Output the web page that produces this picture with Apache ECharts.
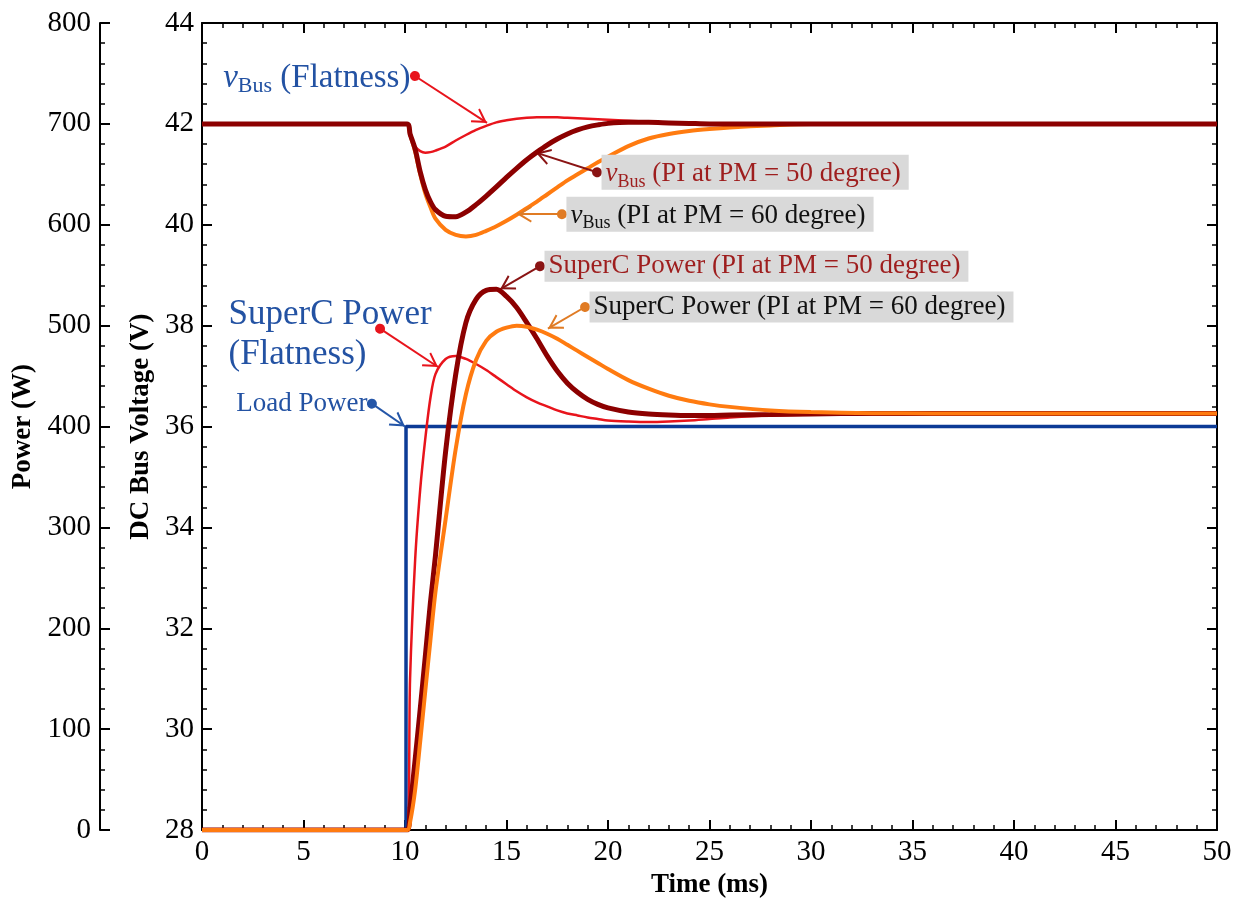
<!DOCTYPE html>
<html><head><meta charset="utf-8">
<script src="https://cdn.jsdelivr.net/npm/echarts@6/dist/echarts.min.js"></script>
<style>html,body{margin:0;padding:0;background:#fff}#c{width:1243px;height:904px}</style>
</head><body><div id="c"></div>
<script>
// ---------------- data ----------------
const timeMs = [0, 10.1, 10.25, 10.5, 10.75, 11, 11.25, 11.5, 12, 12.5, 13, 13.5, 14, 14.5, 15, 15.5, 16, 16.5, 17, 17.5, 18, 18.5, 19, 19.5, 20, 21, 22, 23, 24, 25, 26, 28, 30, 33, 36, 40, 45, 50];

// SuperC power (W)
const pFlatness = [0, 0, 150, 268, 338, 388, 428, 452, 467, 470, 467, 462, 456, 449, 442, 435, 429, 424, 420, 416, 413, 411, 409, 407.5, 406, 405, 404.5, 405, 406, 407.5, 409, 411, 412, 413, 413, 413, 413, 413];
const pPI50 = [0, 0, 22, 70, 120, 172, 225, 272, 375, 452, 503, 526, 535, 536, 529, 518, 503, 487, 470, 455, 443, 434, 427, 422, 418.5, 414.5, 412.5, 411.5, 411, 411, 411.5, 412, 412.5, 413, 413, 413, 413, 413];
const pPI60 = [0, 0, 8, 40, 88, 138, 188, 236, 308, 378, 432, 466, 485, 494, 498, 500, 499, 496, 492, 487, 481, 475, 469, 463, 457, 446, 437.5, 430.5, 425.5, 422, 419.5, 416, 414.3, 413.3, 413, 413, 413, 413];

// DC bus voltage (V)
const vFlatness = [42, 42, 41.75, 41.55, 41.46, 41.43, 41.44, 41.47, 41.55, 41.67, 41.78, 41.88, 41.96, 42.03, 42.07, 42.10, 42.12, 42.13, 42.13, 42.13, 42.12, 42.11, 42.10, 42.09, 42.08, 42.06, 42.04, 42.02, 42.01, 42.0, 42.0, 42, 42, 42, 42, 42, 42, 42];
const vPI50 = [42, 42, 41.8, 41.5, 41.05, 40.7, 40.46, 40.3, 40.17, 40.16, 40.25, 40.4, 40.57, 40.75, 40.94, 41.12, 41.29, 41.44, 41.58, 41.7, 41.8, 41.88, 41.94, 41.98, 42.01, 42.03, 42.03, 42.02, 42.01, 42.0, 42.0, 42, 42, 42, 42, 42, 42, 42];
const vPI60 = [42, 42, 41.8, 41.45, 41.0, 40.62, 40.35, 40.12, 39.9, 39.8, 39.77, 39.8, 39.88, 39.97, 40.08, 40.2, 40.33, 40.46, 40.6, 40.74, 40.88, 41.0, 41.12, 41.24, 41.35, 41.56, 41.71, 41.8, 41.86, 41.9, 41.93, 41.97, 42.0, 42, 42, 42, 42, 42];

// Load power step (W)
const loadTime = [0, 10.05, 10.05, 50];
const loadPower = [0, 0, 400, 400];

// axis ranges / ticks
const timeRange = [0, 50, 5];
const voltRange = [28, 44, 2];
const powerRange = [0, 800, 100];

// ---------------- styling ----------------
const FONT = '"Liberation Serif", "Times New Roman", serif';
const C_RED = '#e8141c', C_DRED = '#8c0000', C_ORG = '#ff7b10', C_BLUE = '#0c3b96';
const C_ORG_ARROW = '#e07b24', C_DRED_ARROW = '#8a1414', C_TXT_BLUE = '#2352a3', C_TXT_DRED = '#9e1e1e';
const ARROW = 'path://M0,0L0.01,0L0,0.01Z M40,40L39.99,40L40,39.99Z M20,20L31,38.5L28.6,39.6L20,25.5L11.4,39.6L9,38.5Z';

const zip = (xs, ys) => xs.map((x, i) => [x, ys[i]]);

function axisBase() {
  return {
    axisLine: { show: true, onZero: false, lineStyle: { color: '#000', width: 2 } },
    axisTick: { show: true, inside: true, length: 10, lineStyle: { color: '#000', width: 2 } },
    minorTick: { show: true, splitNumber: 5, length: 5, lineStyle: { color: '#000', width: 1.5 } },
    splitLine: { show: false },
    minorSplitLine: { show: false },
    axisLabel: { color: '#000', fontFamily: FONT, fontSize: 29, margin: 8 },
    nameTextStyle: { color: '#000', fontFamily: FONT, fontSize: 27, fontWeight: 'bold' }
  };
}

function arrow(from, to, color) {
  return [
    { coord: from, symbol: 'circle', symbolSize: 10, lineStyle: { color: color, width: 2, type: 'solid' }, itemStyle: { color: color } },
    { coord: to, symbol: ARROW, symbolSize: 30, itemStyle: { color: color } }
  ];
}

function vbusRich(color, size) {
  return {
    v: { fontFamily: FONT, fontStyle: 'italic', fontSize: size, color: color, lineHeight: size + 4, verticalAlign: 'bottom' },
    s: { fontFamily: FONT, fontSize: Math.round(size * 0.66), color: color, lineHeight: size + 4, verticalAlign: 'bottom', padding: [0, 0, -3, 0] },
    t: { fontFamily: FONT, fontSize: size, color: color, lineHeight: size + 4, verticalAlign: 'bottom' }
  };
}

function tag(coord, formatter, color, rich, pos, bg, fontSize, extra) {
  return {
    coord: coord, symbol: 'circle', symbolSize: 1, itemStyle: { color: 'rgba(0,0,0,0)' },
    label: Object.assign({
      show: true, position: pos, distance: 4, formatter: formatter, rich: rich,
      fontFamily: FONT, fontSize: fontSize, color: color,
      backgroundColor: bg || 'transparent', padding: bg ? [2, 8, 2, 4] : 0
    }, extra || {})
  };
}

const base = axisBase();
const option = {
  animation: false,
  backgroundColor: '#fff',
  grid: { left: 202, right: 26, top: 23, bottom: 71, containLabel: false },
  xAxis: [
    Object.assign({}, base, {
      type: 'value', position: 'bottom', min: timeRange[0], max: timeRange[1], interval: timeRange[2],
      name: 'Time (ms)', nameLocation: 'middle', nameGap: 39
    }),
    Object.assign({}, base, {
      type: 'value', position: 'top', min: timeRange[0], max: timeRange[1], interval: timeRange[2],
      axisLabel: { show: false }
    })
  ],
  yAxis: [
    Object.assign({}, base, {
      type: 'value', position: 'left', offset: 0, min: voltRange[0], max: voltRange[1], interval: voltRange[2],
      name: 'DC Bus Voltage (V)', nameLocation: 'middle', nameGap: 37
    }),
    Object.assign({}, base, {
      type: 'value', position: 'left', offset: 102, min: powerRange[0], max: powerRange[1], interval: powerRange[2],
      name: 'Power (W)', nameLocation: 'middle', nameGap: 57,
      axisLabel: { color: '#000', fontFamily: FONT, fontSize: 29, margin: 9 }
    }),
    Object.assign({}, base, {
      type: 'value', position: 'right', min: voltRange[0], max: voltRange[1], interval: voltRange[2],
      axisLabel: { show: false }
    })
  ],
  series: [
    { name: 'Load Power', type: 'line', xAxisIndex: 0, yAxisIndex: 1, data: zip(loadTime, loadPower),
      showSymbol: false, lineStyle: { color: C_BLUE, width: 3.5 }, z: 2,
      markLine: { silent: true, animation: false, label: { show: false }, data: [arrow([8.37, 422.7], [10.0, 400], '#2456a8')] },
      markPoint: { silent: true, animation: false, data: [tag([8.37, 422.7], 'Load Power', C_TXT_BLUE, null, 'left', null, 27)] } },
    { name: 'vBus PI60', type: 'line', xAxisIndex: 0, yAxisIndex: 0, data: zip(timeMs, vPI60),
      showSymbol: false, smooth: 0.3, lineStyle: { color: C_ORG, width: 4 }, z: 3 },
    { name: 'vBus Flatness', type: 'line', xAxisIndex: 0, yAxisIndex: 0, data: zip(timeMs, vFlatness),
      showSymbol: false, smooth: 0.3, lineStyle: { color: C_RED, width: 2.5 }, z: 4 },
    { name: 'vBus PI50', type: 'line', xAxisIndex: 0, yAxisIndex: 0, data: zip(timeMs, vPI50),
      showSymbol: false, smooth: 0.3, lineStyle: { color: C_DRED, width: 5 }, z: 5,
      markLine: { silent: true, animation: false, label: { show: false }, data: [
        arrow([10.49, 42.95], [14.04, 42.02], C_RED),
        arrow([19.46, 41.04], [16.45, 41.43], C_DRED_ARROW),
        arrow([17.73, 40.21], [15.52, 40.21], C_ORG_ARROW)
      ] },
      markPoint: { silent: true, animation: false, data: [
        tag([10.49, 42.95], '{v|v}{s|Bus}{t| (Flatness)}', C_TXT_BLUE, vbusRich(C_TXT_BLUE, 33), 'left', null, 33),
        tag([19.46, 41.04], '{v|v}{s|Bus}{t| (PI at PM = 50 degree)}', C_TXT_DRED, vbusRich(C_TXT_DRED, 27), 'right', '#d9d9d9', 27),
        tag([17.73, 40.21], '{v|v}{s|Bus}{t| (PI at PM = 60 degree)}', '#111', vbusRich('#111', 27), 'right', '#d9d9d9', 27)
      ] } },
    { name: 'SuperC Flatness', type: 'line', xAxisIndex: 0, yAxisIndex: 1, data: zip(timeMs, pFlatness),
      showSymbol: false, smooth: 0.3, lineStyle: { color: C_RED, width: 2.5 }, z: 6 },
    { name: 'SuperC PI50', type: 'line', xAxisIndex: 0, yAxisIndex: 1, data: zip(timeMs, pPI50),
      showSymbol: false, smooth: 0.3, lineStyle: { color: C_DRED, width: 5 }, z: 7 },
    { name: 'SuperC PI60', type: 'line', xAxisIndex: 0, yAxisIndex: 1, data: zip(timeMs, pPI60),
      showSymbol: false, smooth: 0.3, lineStyle: { color: C_ORG, width: 4 }, z: 8,
      markLine: { silent: true, animation: false, label: { show: false }, data: [
        arrow([8.77, 497], [11.63, 459], C_RED),
        arrow([16.65, 559], [14.68, 536], C_DRED_ARROW),
        arrow([18.87, 518.5], [17.04, 497], C_ORG_ARROW)
      ] },
      markPoint: { silent: true, animation: false, data: [
        tag([1.28, 491], 'SuperC Power\n(Flatness)', C_TXT_BLUE, null, 'right', null, 35, { distance: 0, lineHeight: 40, align: 'left' }),
        tag([16.65, 559], 'SuperC Power (PI at PM = 50 degree)', C_TXT_DRED, null, 'right', '#d9d9d9', 27),
        tag([18.87, 518.5], 'SuperC Power (PI at PM = 60 degree)', '#111', null, 'right', '#d9d9d9', 27)
      ] } }
  ]
};

const chart = echarts.init(document.getElementById('c'), null, { renderer: 'canvas' });
chart.setOption(option);
</script></body></html>
